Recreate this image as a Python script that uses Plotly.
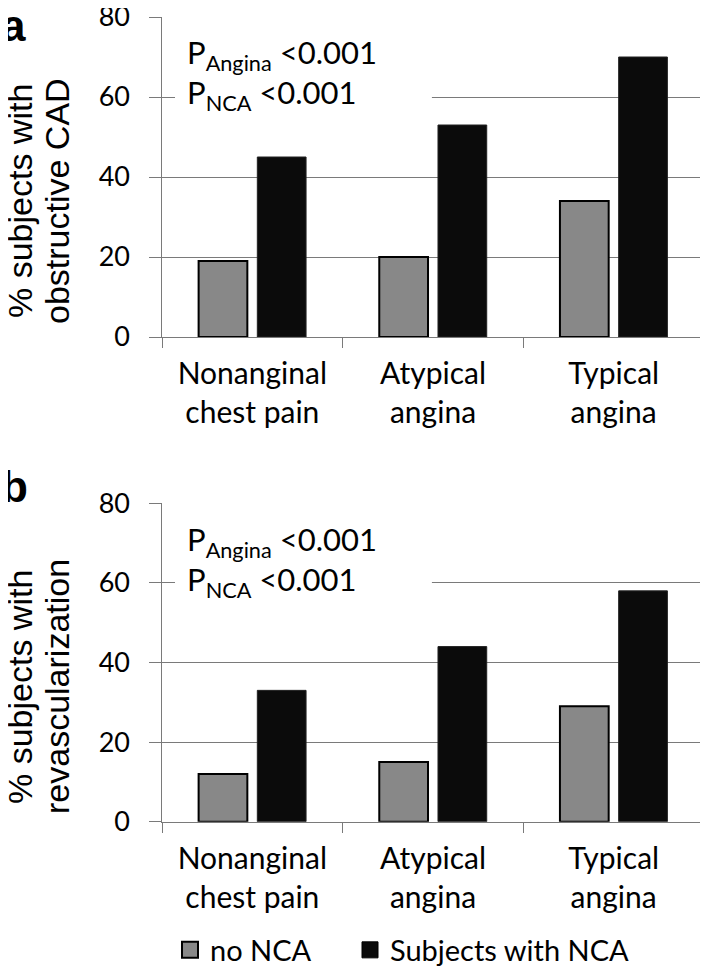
import plotly.graph_objects as go

categories = ["Nonanginal<br>chest pain", "Atypical<br>angina", "Typical<br>angina"]
cad_no_nca = [19, 20, 34]
cad_nca = [45, 53, 70]
revasc_no_nca = [12, 15, 29]
revasc_nca = [33, 44, 58]
y_ticks = [0, 20, 40, 60, 80]
y_ticklabels = ["0", "20", "40", "60", "80"]
series_names = ["no NCA", "Subjects with NCA"]
p_text = "P<sub>Angina</sub> <0.001<br>P<sub>NCA</sub> <0.001"
titles_top = ["% subjects with", "obstructive CAD"]
titles_bot = ["% subjects with", "revascularization"]

# page has an 8px body margin; figure is sized to fill the rest of the window
OFF = 8
W, H = 708 - OFF, 980 - OFF
GRAY = "#888888"
BLACK = "#0b0b0b"
AX = "#7a7a7a"
FONT = "Lato, 'Open Sans', sans-serif"
TFONT = "'Liberation Sans', Arial, sans-serif"

def px(x):
    return (x - OFF) / W

def py(y):
    return 1 - (y - OFF) / H

fig = go.Figure()

def add_panel(vals_a, vals_b, xa, ya):
    fig.add_trace(go.Bar(x=categories, y=vals_a, xaxis=xa, yaxis=ya, name=series_names[0],
                         marker=dict(color=GRAY, line=dict(color="black", width=2)),
                         showlegend=False))
    fig.add_trace(go.Bar(x=categories, y=vals_b, xaxis=xa, yaxis=ya, name=series_names[1],
                         marker=dict(color=BLACK, line=dict(color="#222222", width=1)),
                         showlegend=False))

add_panel(cad_no_nca, cad_nca, "x", "y")
add_panel(revasc_no_nca, revasc_nca, "x2", "y2")

# empty traces so the label-only overlay axes are drawn
fig.add_trace(go.Scatter(x=[None], y=[None], xaxis="x", yaxis="y3", showlegend=False, hoverinfo="skip"))
fig.add_trace(go.Scatter(x=[None], y=[None], xaxis="x2", yaxis="y4", showlegend=False, hoverinfo="skip"))

fig.add_trace(go.Scatter(x=[None], y=[None], mode="markers", name=series_names[0], legend="legend",
                         marker=dict(symbol="square", size=16, color=GRAY, line=dict(color="black", width=2))))
fig.add_trace(go.Scatter(x=[None], y=[None], mode="markers", name=series_names[1], legend="legend2",
                         marker=dict(symbol="square", size=16, color=BLACK, line=dict(color="black", width=1))))

xdom = [px(162), px(704)]
top_dom = [py(337), py(17)]
bot_dom = [py(821.7), py(503.3)]

def yax(dom):
    # gridlines, axis line and tick marks (labels are drawn by the overlay axis)
    return dict(domain=dom, range=[0, 80], tickvals=y_ticks, showticklabels=False,
                showgrid=True, gridcolor=AX, gridwidth=1,
                showline=True, linecolor=AX, linewidth=1, ticks="outside", ticklen=12, tickcolor=AX,
                zeroline=False, automargin=False)

def ylab(base):
    return dict(overlaying=base, anchor="free", position=px(130), side="left", range=[0, 80],
                tickvals=y_ticks, ticktext=y_ticklabels, showgrid=False, showline=False, ticks="",
                zeroline=False, automargin=False, ticklabeloverflow="allow",
                tickfont=dict(size=27, color="black", family=FONT))

def xax(anchor):
    return dict(domain=xdom, anchor=anchor, showline=True, linecolor=AX, linewidth=1, ticks="outside",
                ticklen=10, tickcolor=AX, tickson="boundaries", showgrid=False, automargin=False,
                ticklabeloverflow="allow", ticklabelstandoff=10,
                tickfont=dict(size=30, color="black", family=FONT))

leg_common = dict(orientation="h", xanchor="left", y=py(950), yanchor="middle",
                  font=dict(size=29, color="black", family=FONT), bgcolor="rgba(0,0,0,0)")

fig.update_layout(
    width=W, height=H, margin=dict(l=0, r=0, t=0, b=0, autoexpand=False),
    paper_bgcolor="white", plot_bgcolor="white",
    barmode="group", bargap=0.35, bargroupgap=0.17,
    xaxis=xax("y"), yaxis=yax(top_dom), yaxis3=ylab("y"),
    xaxis2=xax("y2"), yaxis2=yax(bot_dom), yaxis4=ylab("y2"),
    showlegend=True,
    legend=dict(x=px(170), **leg_common),
    legend2=dict(x=px(350), **leg_common),
    font=dict(family=FONT, color="black"),
)

# white text boxes hiding the gridline behind the p-value text
for xr, yr in [("x domain", "y domain"), ("x2 domain", "y2 domain")]:
    fig.add_shape(type="rect", xref=xr, yref=yr, x0=0.024, x1=0.498, y0=0.70, y1=0.955,
                  fillcolor="white", line=dict(width=0), layer="above")
    fig.add_annotation(text=p_text, xref=xr, yref=yr, x=0.042, y=0.955, xanchor="left", yanchor="top",
                       align="left", showarrow=False,
                       font=dict(size=31, color="black", family=FONT))

# rotated axis titles
for lines, yc in [(titles_top, 201), (titles_bot, 687)]:
    for line, xc in zip(lines, [20, 57]):
        fig.add_annotation(text=line, xref="paper", yref="paper", x=px(xc), y=py(yc),
                           xanchor="center", yanchor="middle", textangle=-90, showarrow=False,
                           borderpad=0, font=dict(size=34, color="black", family=TFONT))

for lab, ypx in [("a", 25), ("b", 486)]:
    fig.add_annotation(text=lab, xref="paper", yref="paper", x=px(0), y=py(ypx),
                       xanchor="left", yanchor="middle", showarrow=False, borderpad=0,
                       font=dict(size=44, color="black", family=TFONT, weight="bold"))

fig.write_html("out.html")
